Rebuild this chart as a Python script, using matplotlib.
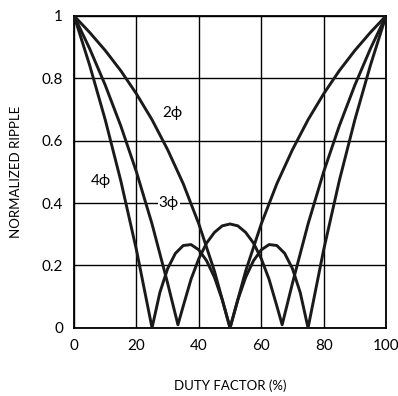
import numpy as np
import matplotlib.pyplot as plt

plt.rcParams['font.family'] = ['Lato', 'DejaVu Sans']

# normalized output ripple vs duty factor for 2, 3 and 4 phases
duty_2ph = [0, 5, 10, 15, 20, 25, 30, 35, 40, 45, 50,
            55, 60, 65, 70, 75, 80, 85, 90, 95, 100]
ripple_2ph = [1.00, 0.947, 0.889, 0.824, 0.75, 0.667, 0.571, 0.462, 0.333, 0.182, 0.0,
              0.182, 0.333, 0.462, 0.571, 0.667, 0.75, 0.824, 0.889, 0.947, 1.00]

duty_3ph = [0, 5, 10, 15, 20, 25, 30, 33.3, 35, 37.5, 40, 42.5, 45, 47.5, 50,
            52.5, 55, 57.5, 60, 62.5, 65, 66.7, 70, 75, 80, 85, 90, 95, 100]
ripple_3ph = [1.00, 0.895, 0.778, 0.647, 0.50, 0.333, 0.143, 0.01, 0.07, 0.156, 0.222, 0.272, 0.306, 0.327, 0.333,
              0.327, 0.306, 0.272, 0.222, 0.156, 0.07, 0.01, 0.143, 0.333, 0.50, 0.647, 0.778, 0.895, 1.00]

duty_4ph = [0, 5, 10, 15, 20, 25, 27.5, 30, 32.5, 35, 37.5, 40, 42.5, 45, 47.5, 50,
            52.5, 55, 57.5, 60, 62.5, 65, 67.5, 70, 72.5, 75, 80, 85, 90, 95, 100]
ripple_4ph = [1.00, 0.842, 0.667, 0.471, 0.25, 0.0, 0.113, 0.19, 0.239, 0.264, 0.267, 0.25, 0.215, 0.162, 0.09, 0.0,
              0.09, 0.162, 0.215, 0.25, 0.267, 0.264, 0.239, 0.19, 0.113, 0.0, 0.25, 0.471, 0.667, 0.842, 1.00]

curve_labels = ['2\u03d5', '3\u03d5', '4\u03d5']
label_x = [31.4, 30.4, 8.7]
label_y = [0.69, 0.40, 0.47]

fig = plt.figure(figsize=(3.98, 3.96), dpi=100)
ax = fig.add_axes([0.186, 0.172, 0.784, 0.788])

for xs, ys in [(duty_2ph, ripple_2ph), (duty_3ph, ripple_3ph), (duty_4ph, ripple_4ph)]:
    ax.plot(xs, ys, color='#1a1a1a', lw=2.1, solid_joinstyle='round', zorder=3)

for txt, lx, ly in zip(curve_labels, label_x, label_y):
    ax.text(lx, ly, txt, fontsize=11, ha='center', va='center', zorder=4,
            bbox=dict(facecolor='white', edgecolor='none', pad=0.5) if ly == 0.40 else None)

ax.set_xlim(0, 100)
ax.set_ylim(0, 1)
ax.set_xticks([0, 20, 40, 60, 80, 100])
ax.set_yticks([0, 0.2, 0.4, 0.6, 0.8, 1])
ax.set_yticklabels(['0', '0.2', '0.4', '0.6', '0.8', '1'])
ax.tick_params(length=0, labelsize=11, pad=8)
ax.grid(True, color='black', lw=1.0)
for s in ax.spines.values():
    s.set_linewidth(1.3)
    s.set_color('black')

ax.set_xlabel('DUTY FACTOR (%)', fontsize=9.5, labelpad=19)
ax.set_ylabel('NORMALIZED RIPPLE', fontsize=9.5, labelpad=14)

fig.savefig('out.png', dpi=100)
